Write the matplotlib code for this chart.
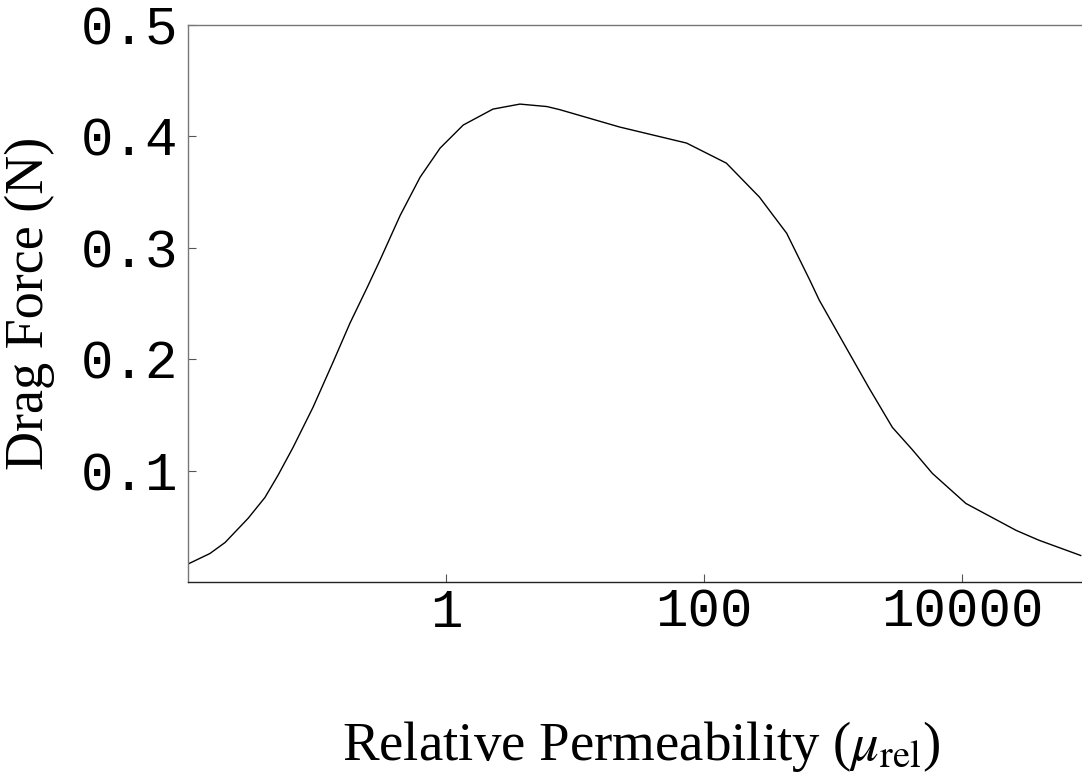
import matplotlib

matplotlib.use("Agg")
import matplotlib.pyplot as plt

# relative permeability (log axis) and drag force
MU_REL = [0.00982, 0.0148, 0.0194, 0.0292, 0.0395, 0.0498, 0.0652, 0.0931,
          0.133, 0.180, 0.244, 0.308, 0.441, 0.630, 0.900, 1.36, 2.31, 3.74,
          6.05, 7.62, 22.2, 73.3, 149, 269, 339, 437, 661, 783, 1259, 1905,
          2884, 4102, 5888, 10715, 26303, 39446, 83176]
DRAG_N = [0.0157, 0.0256, 0.0355, 0.0571, 0.0759, 0.0957, 0.1208, 0.1568,
          0.1972, 0.2323, 0.2640, 0.2890, 0.3290, 0.3634, 0.3895, 0.4102,
          0.4245, 0.4290, 0.4268, 0.4240, 0.4084, 0.3940, 0.3760, 0.3455,
          0.3300, 0.3131, 0.2709, 0.2529, 0.2107, 0.1740, 0.1388, 0.1190,
          0.0975, 0.0705, 0.0463, 0.0375, 0.0238]

XTICKS = [1, 100, 10000]
XTICKLABELS = ["1", "100", "10000"]
YTICKS = [0.1, 0.2, 0.3, 0.4, 0.5]
YTICKLABELS = ["0.1", "0.2", "0.3", "0.4", "0.5"]

plt.rcParams["mathtext.fontset"] = "stix"

fig = plt.figure(figsize=(10.82, 7.81), dpi=100)
ax = fig.add_axes([188 / 1082, 1 - 582 / 781, 1 - 188 / 1082, (582 - 25) / 781])

ax.plot(MU_REL, DRAG_N, color="black", lw=1.0)
ax.set_xscale("log")
ax.set_xlim(0.01, 10 ** 4.93)
ax.set_ylim(0, 0.5)

ax.set_xticks(XTICKS)
ax.set_xticklabels(XTICKLABELS)
ax.set_yticks(YTICKS)
ax.set_yticklabels(YTICKLABELS)
ax.minorticks_off()
ax.tick_params(direction="in", length=6, width=0.8, color="#555555",
               labelsize=39)
ax.tick_params(axis="x", pad=4)
ax.tick_params(axis="y", pad=7)
for lab in ax.get_xticklabels() + ax.get_yticklabels():
    lab.set_family("Liberation Mono")

ax.spines["right"].set_visible(False)
ax.spines["top"].set_color("#777777")
ax.spines["left"].set_color("#777777")
ax.spines["bottom"].set_color("#222222")
for s in ax.spines.values():
    s.set_linewidth(1.0)

ax.set_xlabel(r"Relative Permeability ($\mu_{\rm rel}$)", family="Liberation Serif",
              fontsize=39.5)
ax.xaxis.set_label_coords(0.507, -137 / 557)
ax.set_ylabel("Drag Force (N)", family="Liberation Serif", fontsize=39)
ax.yaxis.set_label_coords(-133 / 894, 0.5)

fig.savefig("out.png", dpi=100)
